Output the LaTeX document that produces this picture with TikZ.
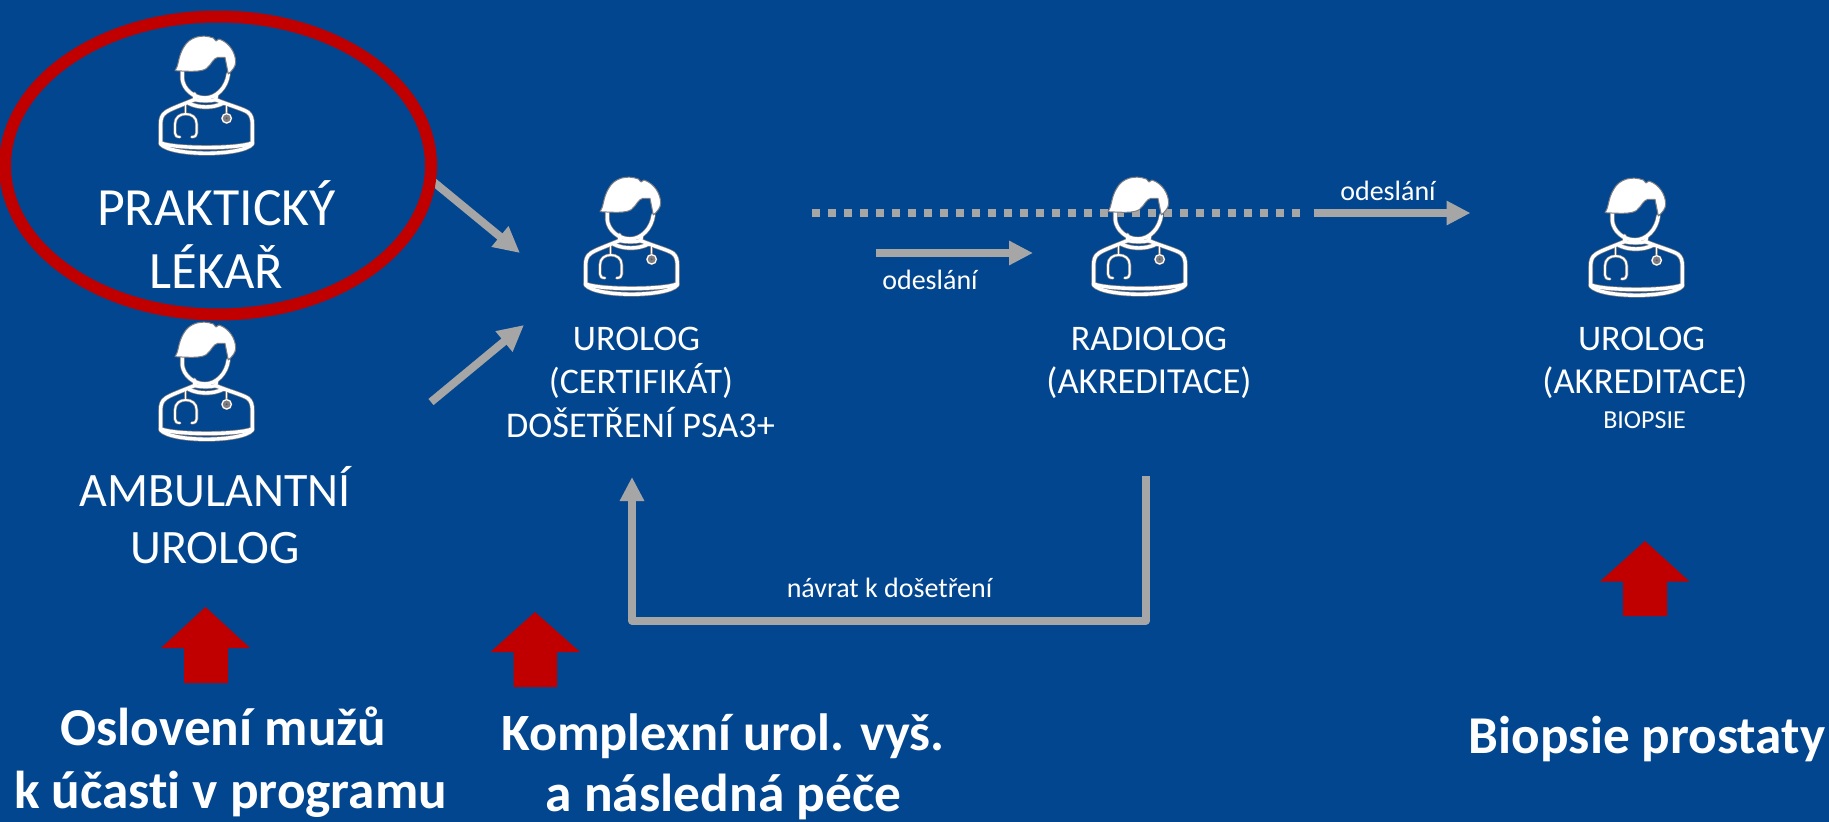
\documentclass[tikz,border=0pt]{standalone}
\usepackage{fontspec}
\setmainfont[Ligatures=NoCommon]{Carlito}
\usetikzlibrary{arrows.meta,shapes.geometric}
\definecolor{bgblue}{RGB}{2,70,143}
\definecolor{redc}{RGB}{192,0,0}
\definecolor{greyc}{RGB}{166,166,166}
\definecolor{edgec}{RGB}{125,125,130}
\newcommand{\fsz}[1]{\fontsize{#1}{#1}\selectfont}
\tikzset{
  x=1pt,y=-1pt,
  txt/.style={anchor=base,text=white,inner sep=0pt},
  big/.style={txt,font=\fsz{52.5}},
  amb/.style={txt,font=\fsz{48}},
  mid/.style={txt,font=\fsz{36}},
  small/.style={txt,font=\fsz{28}},
  tiny/.style={txt,font=\fsz{26}},
  strong/.style={txt,font=\fsz{53.3}\bfseries},
  flow/.style={draw=greyc,line width=8pt,-{Triangle[length=24pt,width=23pt]}},
  slant/.style={draw=greyc,line width=8pt,-{Triangle[length=26pt,width=25pt]}},
  dots/.style={draw=greyc,line width=8pt,dash pattern=on 8pt off 8pt},
  block/.style={fill=redc,draw=none},
  doctor/.pic={
    \begin{scope}[x=0.3333pt,y=-0.3333pt,line cap=round,line join=round]
      \foreach \col/\wa/\wb in {edgec/4.8/2.6,white/3.4/1.3}{
        \draw[\col,line width=\wa pt]
          (112,125) -- (112,150) .. controls (115,180) and (145,207) .. (180,207)
          .. controls (215,207) and (245,175) .. (250,135);
        \draw[\col,line width=\wa pt] (148,195) -- (150,212) (215,195) -- (212,212);
        \draw[\col,line width=\wa pt]
          (148,212) .. controls (110,228) and (75,240) .. (62,250)
          .. controls (50,258) and (47,270) .. (47,285) -- (47,345)
          .. controls (80,382) and (290,382) .. (322,345) -- (322,285)
          .. controls (322,270) and (319,258) .. (309,250)
          .. controls (295,240) and (250,228) .. (212,212);
        \draw[\col,line width=\wa pt] (47,342) .. controls (90,360) and (280,360) .. (322,342);
        \draw[\col,line width=\wa pt] (130,222) .. controls (160,238) and (205,238) .. (235,222);
        \draw[\col,line width=\wa pt] (150,212) .. controls (170,216) and (195,216) .. (212,212);
        \draw[\col,line width=\wb pt] (122,225) -- (122,255);
        \draw[\col,line width=\wb pt] (245,225) -- (245,255);
        \draw[\col,line width=\wb+0.6pt]
          (105,324) .. controls (95,324) and (90,320) .. (90,312) -- (90,285)
          .. controls (90,265) and (105,255) .. (122,255)
          .. controls (140,255) and (155,265) .. (155,285) -- (155,312)
          .. controls (155,320) and (150,324) .. (140,324);
      }
      \draw[edgec,line width=1pt,fill=white]
        (90,125) .. controls (102,110) and (98,85) .. (116,55)
        .. controls (133,24) and (170,14) .. (205,27) -- (213,36) -- (222,30)
        .. controls (252,40) and (272,70) .. (272,100)
        .. controls (272,112) and (262,125) .. (250,135) -- (240,85) -- (218,85)
        .. controls (205,88) and (200,105) .. (185,118)
        .. controls (170,130) and (130,127) .. (90,125) -- cycle;
      \fill[edgec] (245,268) circle[radius=17];
      \draw[white,line width=1.2pt] (245,268) circle[radius=14];
      \fill[edgec!70!black] (245,268) circle[radius=3];
    \end{scope}
  }
}
\begin{document}
\begin{tikzpicture}
  \fill[bgblue] (0,0) rectangle (1829,822);
  \useasboundingbox (0,0) rectangle (1829,822);

  % free ends of the connectors
  \coordinate (aS) at (430,179);
  \coordinate (aE) at (520,253);
  \coordinate (bS) at (431,402);
  \coordinate (bE) at (524,325);
  \coordinate (cS) at (876,253);
  \coordinate (cE) at (1033,253);
  \coordinate (dotS) at (811.6,213);
  \coordinate (dotE) at (1300,213);
  \coordinate (dS) at (1313.5,213);
  \coordinate (dE) at (1470.5,213);
  \coordinate (rA) at (1146,476);
  \coordinate (rB) at (1146,620.5);
  \coordinate (rC) at (632,620.5);
  \coordinate (rD) at (632,477);

  % connectors
  \draw[slant] (aS) -- (aE);
  \draw[slant] (bS) -- (bE);
  \draw[flow] (cS) -- (cE);
  \draw[dots] (dotS) -- (dotE);
  \draw[flow] (dS) -- (dE);
  \draw[flow,line join=round] (rA) -- (rB) -- (rC) -- (rD);

  % ring round the first doctor
  \node[draw=redc,line width=12pt,ellipse,minimum width=426pt,minimum height=298pt,inner sep=0pt,outer sep=0pt] (ring) at (218,165.5) {};

  % doctors
  \pic (docA) at (145,29) {doctor};
  \pic (docB) at (145,315) {doctor};
  \pic (docC) at (570,170) {doctor};
  \pic (docD) at (1078,170) {doctor};
  \pic (docE) at (1575,171) {doctor};

  % labels
  \node[big,font=\fsz{53.8}] (t1a) at (216.5,225) {PRAKTICKÝ};
  \node[big] (t1b) at (216.5,288) {LÉKAŘ};
  \node[amb] (t2a) at (215,506) {AMBULANTNÍ};
  \node[amb] (t2b) at (215,563) {UROLOG};
  \node[mid] (t3a) at (636.5,350.7) {UROLOG};
  \node[mid] (t3b) at (641,393) {(CERTIFIKÁT)};
  \node[mid,font=\fsz{36.2}] (t3c) at (640.5,437) {DOŠETŘENÍ PSA3+};
  \node[mid] (t4a) at (1149,350.7) {RADIOLOG};
  \node[mid,font=\fsz{36.6}] (t4b) at (1149,393) {(AKREDITACE)};
  \node[mid] (t5a) at (1641.5,350.7) {UROLOG};
  \node[mid,font=\fsz{36.6}] (t5b) at (1645,393.5) {(AKREDITACE)};
  \node[tiny] (t5c) at (1644.5,428.6) {BIOPSIE};
  \node[small] (lb1) at (930,289) {odeslání};
  \node[small] (lb2) at (1388,200) {odeslání};
  \node[small] (lb3) at (889.5,597) {návrat k došetření};

  % red up arrows
  \fill[block] (205.5,607) -- (250,648) -- (228,648) -- (228,683) -- (184,683) -- (184,648) -- (161,648) -- cycle;
  \fill[block] (535,612) -- (580,652) -- (557,652) -- (557,687) -- (513.5,687) -- (513.5,652) -- (490.5,652) -- cycle;
  \fill[block] (1645,541) -- (1689.5,581.5) -- (1667,581.5) -- (1667,616) -- (1623,616) -- (1623,581.5) -- (1600,581.5) -- cycle;

  % bottom captions
  \node[strong] (c1a) at (223.5,745) {Oslovení mužů};
  \node[strong] (c1b) at (230.5,808) {k účasti v programu};
  \node[strong,font=\fsz{52.4}\bfseries] (c2a) at (723,750) {Komplexní urol. vyš.};
  \node[strong,font=\fsz{53.4}\bfseries] (c2b) at (723.5,811.6) {a následná péče};
  \node[strong,font=\fsz{53.2}\bfseries] (c3) at (1647,753.5) {Biopsie prostaty};
\end{tikzpicture}
\end{document}
